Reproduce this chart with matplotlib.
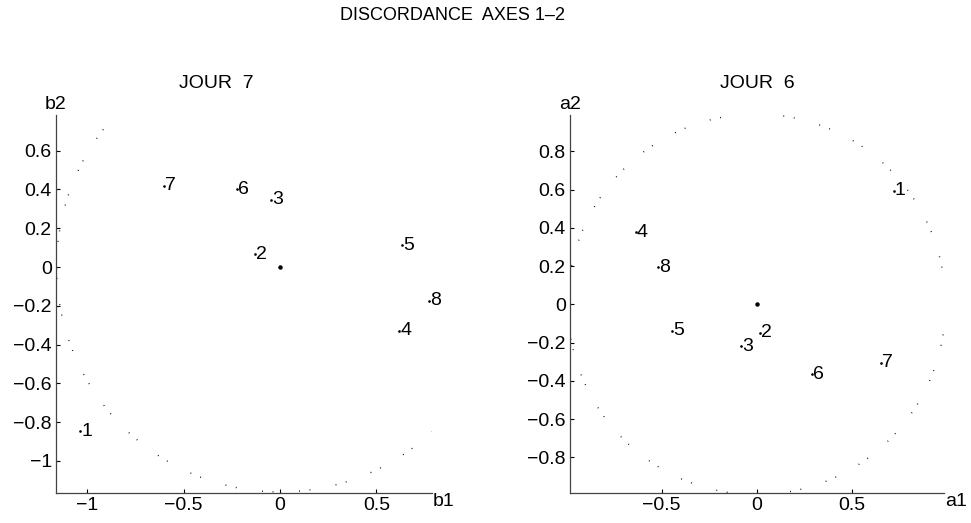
import numpy as np
import matplotlib
matplotlib.use("Agg")
import matplotlib.pyplot as plt

plt.rcParams['font.family'] = ['Liberation Sans', 'DejaVu Sans']
plt.rcParams['lines.scale_dashes'] = False

labels = ['1', '2', '3', '4', '5', '6', '7', '8']

# JOUR 7 (axes b1, b2)
b1 = [-1.038, -0.131, -0.048, 0.620, 0.635, -0.225, -0.601, 0.774]
b2 = [-0.846, 0.067, 0.347, -0.328, 0.112, 0.402, 0.418, -0.174]

# JOUR 6 (axes a1, a2)
a1 = [0.723, 0.019, -0.084, -0.637, -0.446, 0.293, 0.654, -0.521]
a2 = [0.594, -0.148, -0.218, 0.376, -0.138, -0.366, -0.305, 0.193]

radius_left = 1.16
radius_right = 0.995

FS = 14

fig = plt.figure(figsize=(9.71, 5.23), dpi=100)
fig.text(0.4665, 0.971, 'DISCORDANCE  AXES 1\u20132', ha='center', va='center', fontsize=13)

def panel(rect, xs, ys, r, xlim, ylim, title, title_x, xl, yl):
    ax = fig.add_axes(rect)
    t = np.linspace(0, 2 * np.pi, 400)
    ax.plot(r * np.cos(t), r * np.sin(t), color='black', lw=1.0,
            dashes=(0.6, 7.0, 0.6, 18.5), clip_on=True)
    ax.plot([0], [0], marker='o', ms=2.2, color='black', ls='none')
    ax.plot(xs, ys, marker='o', ms=0.9, color='black', ls='none')
    for x, y, s in zip(xs, ys, labels):
        ax.annotate(s, (x, y), xytext=(0.8, 0), textcoords='offset points',
                    ha='left', va='center', fontsize=FS)
    ax.set_xlim(*xlim)
    ax.set_ylim(*ylim)
    ax.spines['top'].set_visible(False)
    ax.spines['right'].set_visible(False)
    for s in ('left', 'bottom'):
        ax.spines[s].set_linewidth(0.9)
        ax.spines[s].set_color('#444444')
    ax.tick_params(direction='in', length=3, width=0.8, labelsize=FS, pad=3)
    ax.text(title_x, 1.083, title, transform=ax.transAxes, ha='center', va='center', fontsize=FS)
    ax.text(0.0, 1.005, yl, transform=ax.transAxes, ha='center', va='bottom', fontsize=FS)
    ax.text(1.003, 0.0, xl, transform=ax.transAxes, ha='left', va='top', fontsize=FS)
    return ax

ax1 = panel([0.0577, 0.0568, 0.387, 0.7233], b1, b2, radius_left,
            (-1.163, 0.788), (-1.167, 0.784), 'JOUR  7', 0.426, 'b1', 'b2')
ax1.set_xticks([-1, -0.5, 0, 0.5])
ax1.set_xticklabels(['\u22121', '\u22120.5', '0', '0.5'])
ax1.set_yticks([-1, -0.8, -0.6, -0.4, -0.2, 0, 0.2, 0.4, 0.6])
ax1.set_yticklabels(['\u22121', '\u22120.8', '\u22120.6', '\u22120.4', '\u22120.2', '0', '0.2', '0.4', '0.6'])

ax2 = panel([0.587, 0.0568, 0.385, 0.7233], a1, a2, radius_right,
            (-0.983, 0.986), (-0.988, 0.99), 'JOUR  6', 0.501, 'a1', 'a2')
ax2.set_xticks([-0.5, 0, 0.5])
ax2.set_xticklabels(['\u22120.5', '0', '0.5'])
ax2.set_yticks([-0.8, -0.6, -0.4, -0.2, 0, 0.2, 0.4, 0.6, 0.8])
ax2.set_yticklabels(['\u22120.8', '\u22120.6', '\u22120.4', '\u22120.2', '0', '0.2', '0.4', '0.6', '0.8'])

fig.savefig('out.png', dpi=100)
